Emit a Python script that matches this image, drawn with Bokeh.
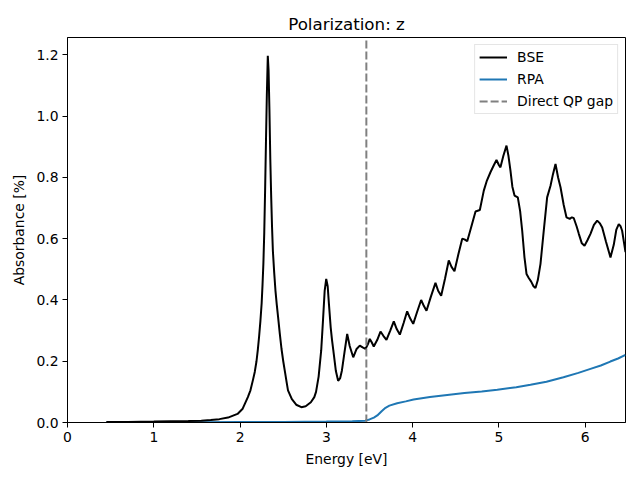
from bokeh.plotting import figure
from bokeh.models import Range1d, FixedTicker, PrintfTickFormatter, Legend, LegendItem
from bokeh.embed import file_html
from bokeh.resources import INLINE

# ---- data ----
bse_energy = [0.45, 0.70, 1.00, 1.20, 1.40, 1.55, 1.66, 1.76, 1.86, 1.97, 2.03, 2.09, 2.12,
              2.15, 2.17, 2.19, 2.205, 2.22, 2.235, 2.25, 2.26, 2.27, 2.28, 2.29, 2.30, 2.31,
              2.321, 2.33, 2.34, 2.35, 2.36, 2.37, 2.38, 2.395, 2.41, 2.425, 2.44, 2.46, 2.48,
              2.50, 2.52, 2.54, 2.555, 2.60, 2.65, 2.71, 2.76, 2.82, 2.86, 2.88, 2.91, 2.94,
              2.96, 2.98, 2.998, 3.015, 3.03, 3.05, 3.065, 3.08, 3.11, 3.136, 3.16, 3.18, 3.21,
              3.241, 3.27, 3.311, 3.35, 3.387, 3.42, 3.453,
              3.48, 3.503, 3.525, 3.549, 3.59, 3.627, 3.66, 3.696, 3.74, 3.781, 3.815, 3.851,
              3.895, 3.936, 3.97, 4.006, 4.05, 4.098, 4.13, 4.160, 4.21, 4.264, 4.295, 4.330,
              4.375, 4.418, 4.45, 4.484, 4.53, 4.574, 4.60, 4.632, 4.68, 4.728, 4.778, 4.824,
              4.86, 4.901, 4.94, 4.971, 5.00, 5.017, 5.05, 5.087, 5.11, 5.133, 5.155, 5.180,
              5.218, 5.245, 5.269, 5.295, 5.319, 5.345, 5.373, 5.40, 5.423, 5.45, 5.481, 5.52,
              5.558, 5.597, 5.625, 5.655, 5.685, 5.713, 5.75, 5.782, 5.820, 5.845, 5.867, 5.90,
              5.925, 5.96, 5.991, 6.025, 6.060, 6.10, 6.138, 6.17, 6.196, 6.24, 6.292, 6.33,
              6.36, 6.388, 6.41, 6.427, 6.466]
bse_absorbance = [0.002, 0.002, 0.003, 0.004, 0.005, 0.006, 0.008, 0.011, 0.016, 0.028, 0.045,
                  0.083, 0.105, 0.14, 0.165, 0.20, 0.236, 0.28, 0.33, 0.39, 0.45, 0.52, 0.62,
                  0.76, 0.92, 1.07, 1.197, 1.15, 1.02, 0.86, 0.74, 0.64, 0.56, 0.49, 0.43, 0.385,
                  0.345, 0.29, 0.24, 0.20, 0.165, 0.13, 0.105, 0.076, 0.058, 0.050, 0.053, 0.066,
                  0.083, 0.10, 0.15, 0.236, 0.33, 0.43, 0.469, 0.445, 0.385, 0.31, 0.27, 0.236,
                  0.168, 0.136, 0.145, 0.17, 0.23, 0.289, 0.25,
                  0.213, 0.24, 0.251, 0.245, 0.240, 0.255, 0.273, 0.262, 0.248, 0.270, 0.297,
                  0.283, 0.270, 0.300, 0.330, 0.305, 0.287, 0.325, 0.363, 0.340, 0.322, 0.360,
                  0.400, 0.380, 0.365, 0.410, 0.456, 0.430, 0.414, 0.470, 0.529, 0.508, 0.494,
                  0.550, 0.600, 0.598, 0.592, 0.640, 0.689, 0.694, 0.757, 0.790, 0.817, 0.840,
                  0.857, 0.840, 0.833, 0.870, 0.904, 0.870, 0.822, 0.770, 0.741, 0.735, 0.690,
                  0.626, 0.540, 0.485, 0.472, 0.460, 0.445, 0.439, 0.465, 0.518, 0.630, 0.735,
                  0.773, 0.810, 0.844, 0.800, 0.768, 0.710, 0.670, 0.665, 0.670, 0.667, 0.640,
                  0.616, 0.585, 0.577, 0.595, 0.616, 0.645, 0.659, 0.650, 0.637, 0.590, 0.539,
                  0.580, 0.630, 0.648, 0.640, 0.626, 0.556]

rpa_energy = [0.45, 1.0, 1.5, 2.0, 2.5, 3.0, 3.3, 3.45, 3.50, 3.55, 3.59, 3.64, 3.685, 3.73,
              3.82, 3.92, 4.01, 4.2, 4.40, 4.6, 4.8, 4.98, 5.2, 5.365, 5.55, 5.747, 5.92, 6.06,
              6.18, 6.29, 6.38, 6.466]
rpa_absorbance = [0.0, 0.0005, 0.001, 0.0015, 0.002, 0.003, 0.004, 0.006, 0.010, 0.016, 0.023,
                  0.037, 0.048, 0.055, 0.063, 0.069, 0.075, 0.083, 0.090, 0.096, 0.101, 0.107,
                  0.115, 0.123, 0.133, 0.148, 0.162, 0.175, 0.186, 0.199, 0.209, 0.221]

direct_qp_gap = 3.463
x_ticks = [0, 1, 2, 3, 4, 5, 6]
y_ticks = [0.0, 0.2, 0.4, 0.6, 0.8, 1.0, 1.2]
x_max = 6.466
y_max = 1.257

FONT = "DejaVu Sans"

p = figure(width=632, height=472, output_backend="svg", toolbar_location=None,
           x_range=Range1d(0, x_max), y_range=Range1d(0, y_max),
           min_border_left=67, min_border_right=7, min_border_top=37, min_border_bottom=50,
           title="Polarization: z")

p.title.align = "center"
p.title.text_font = FONT
p.title.text_font_size = "16.7px"
p.title.text_font_style = "normal"
p.title.text_color = "black"
p.title.standoff = 7

p.xgrid.visible = False
p.ygrid.visible = False
p.outline_line_color = "black"
p.outline_line_width = 1
p.outline_line_alpha = 1

for ax in (p.xaxis[0], p.yaxis[0]):
    ax.axis_line_color = "black"
    ax.major_tick_line_color = "black"
    ax.major_tick_out = 5
    ax.major_tick_in = 0
    ax.minor_tick_line_color = None
    ax.major_label_text_font = FONT
    ax.major_label_text_font_size = "13.9px"
    ax.major_label_text_color = "black"
    ax.major_label_standoff = 4
    ax.axis_label_text_font = FONT
    ax.axis_label_text_font_size = "13.9px"
    ax.axis_label_text_font_style = "normal"
    ax.axis_label_text_color = "black"
    ax.axis_label_standoff = 6

p.xaxis[0].ticker = FixedTicker(ticks=x_ticks)
p.yaxis[0].ticker = FixedTicker(ticks=y_ticks)
p.yaxis[0].formatter = PrintfTickFormatter(format="%.1f")
p.xaxis[0].axis_label = "Energy [eV]"
p.yaxis[0].axis_label = "Absorbance [%]"

r_rpa = p.line(rpa_energy, rpa_absorbance, line_color="#1f77b4", line_width=2)
r_bse = p.line(bse_energy, bse_absorbance, line_color="black", line_width=2)
r_gap = p.line([direct_qp_gap, direct_qp_gap], [0, y_max], line_color="gray",
               line_width=2, line_dash="8 3")

legend = Legend(items=[LegendItem(label="BSE", renderers=[r_bse]),
                       LegendItem(label="RPA", renderers=[r_rpa]),
                       LegendItem(label="Direct QP gap", renderers=[r_gap])],
                location="top_right")
legend.margin = 7
legend.padding = 4
legend.spacing = 6
legend.glyph_width = 28
legend.glyph_height = 16
legend.label_height = 16
legend.label_standoff = 10
legend.label_text_font = FONT
legend.label_text_font_size = "13.9px"
legend.label_text_color = "black"
legend.border_line_color = "#cccccc"
legend.border_line_width = 1
legend.background_fill_color = "white"
legend.background_fill_alpha = 0.8
p.add_layout(legend)

open("out.html", "w").write(file_html(p, INLINE))
